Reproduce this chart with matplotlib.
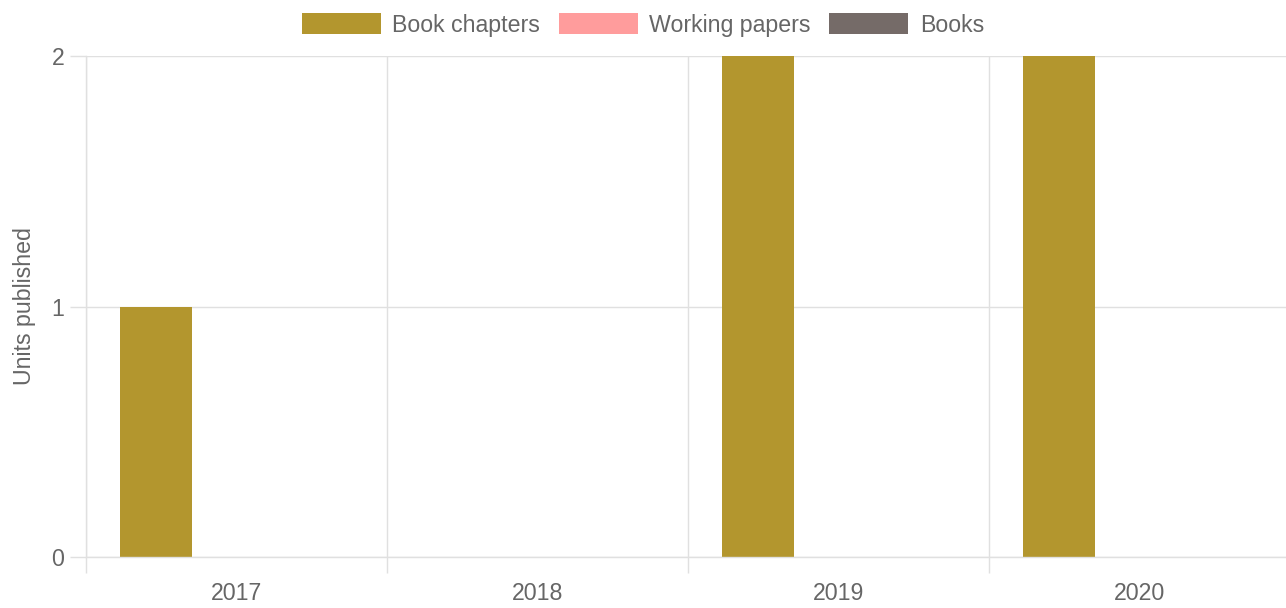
import numpy as np
import matplotlib
matplotlib.use("Agg")
import matplotlib.pyplot as plt

# data
years = ["2017", "2018", "2019", "2020"]
book_chapters = [1, 0, 2, 2]
working_papers = [0, 0, 0, 0]
books = [0, 0, 0, 0]

series_names = ["Book chapters", "Working papers", "Books"]
series_colors = ["#b3962e", "#ff9c9c", "#756b68"]

GRID = "#e0e0e0"
TEXT = "#666666"
FS = 16.7

plt.rcParams["font.family"] = ["Liberation Sans", "DejaVu Sans"]

fig = plt.figure(figsize=(12.86, 6.08), dpi=100)
# plot area runs slightly past the right edge of the canvas, as in the reference
ax = fig.add_axes([86 / 1286, 1 - 557 / 608, (1290 - 86) / 1286, (557 - 56) / 608])

x = np.arange(len(years))
group = 0.8
slot = group / 3
width = slot * 0.9
for i, (vals, name, col) in enumerate(zip([book_chapters, working_papers, books],
                                          series_names, series_colors)):
    offset = (i - 1) * slot
    ax.bar(x + offset, vals, width=width, color=col, label=name, linewidth=0)

ax.set_xlim(-0.5, len(years) - 0.5)
ax.set_ylim(0, 2)

# category boundaries as gridlines, labels in the middle
ax.set_xticks(np.arange(len(years)) - 0.5)
ax.set_xticklabels([])
ax.set_xticks(x, minor=True)
ax.set_xticklabels(years, minor=True)
ax.tick_params(axis="x", which="major", length=11.5, color=GRID, width=1)
ax.tick_params(axis="x", which="minor", length=0, pad=18, labelsize=FS, labelcolor=TEXT)

ax.set_yticks([0, 1, 2])
ax.tick_params(axis="y", length=11.5, color=GRID, width=1, pad=4, labelsize=FS, labelcolor=TEXT)

ax.grid(True, which="major", color=GRID, linewidth=1)
ax.set_axisbelow(True)
for side in ["top", "right"]:
    ax.spines[side].set_visible(False)
for side in ["left", "bottom"]:
    ax.spines[side].set_color(GRID)
    ax.spines[side].set_linewidth(1)

ax.set_ylabel("Units published", fontsize=FS, color=TEXT, labelpad=11)

fig.legend(loc="upper center", bbox_to_anchor=(0.5, 0.997), ncol=3, frameon=False,
           fontsize=FS, labelcolor=TEXT, handlelength=3.4, handleheight=1.0,
           handletextpad=0.5, columnspacing=0.8, borderaxespad=0.1)

fig.savefig("out.png", dpi=100)
